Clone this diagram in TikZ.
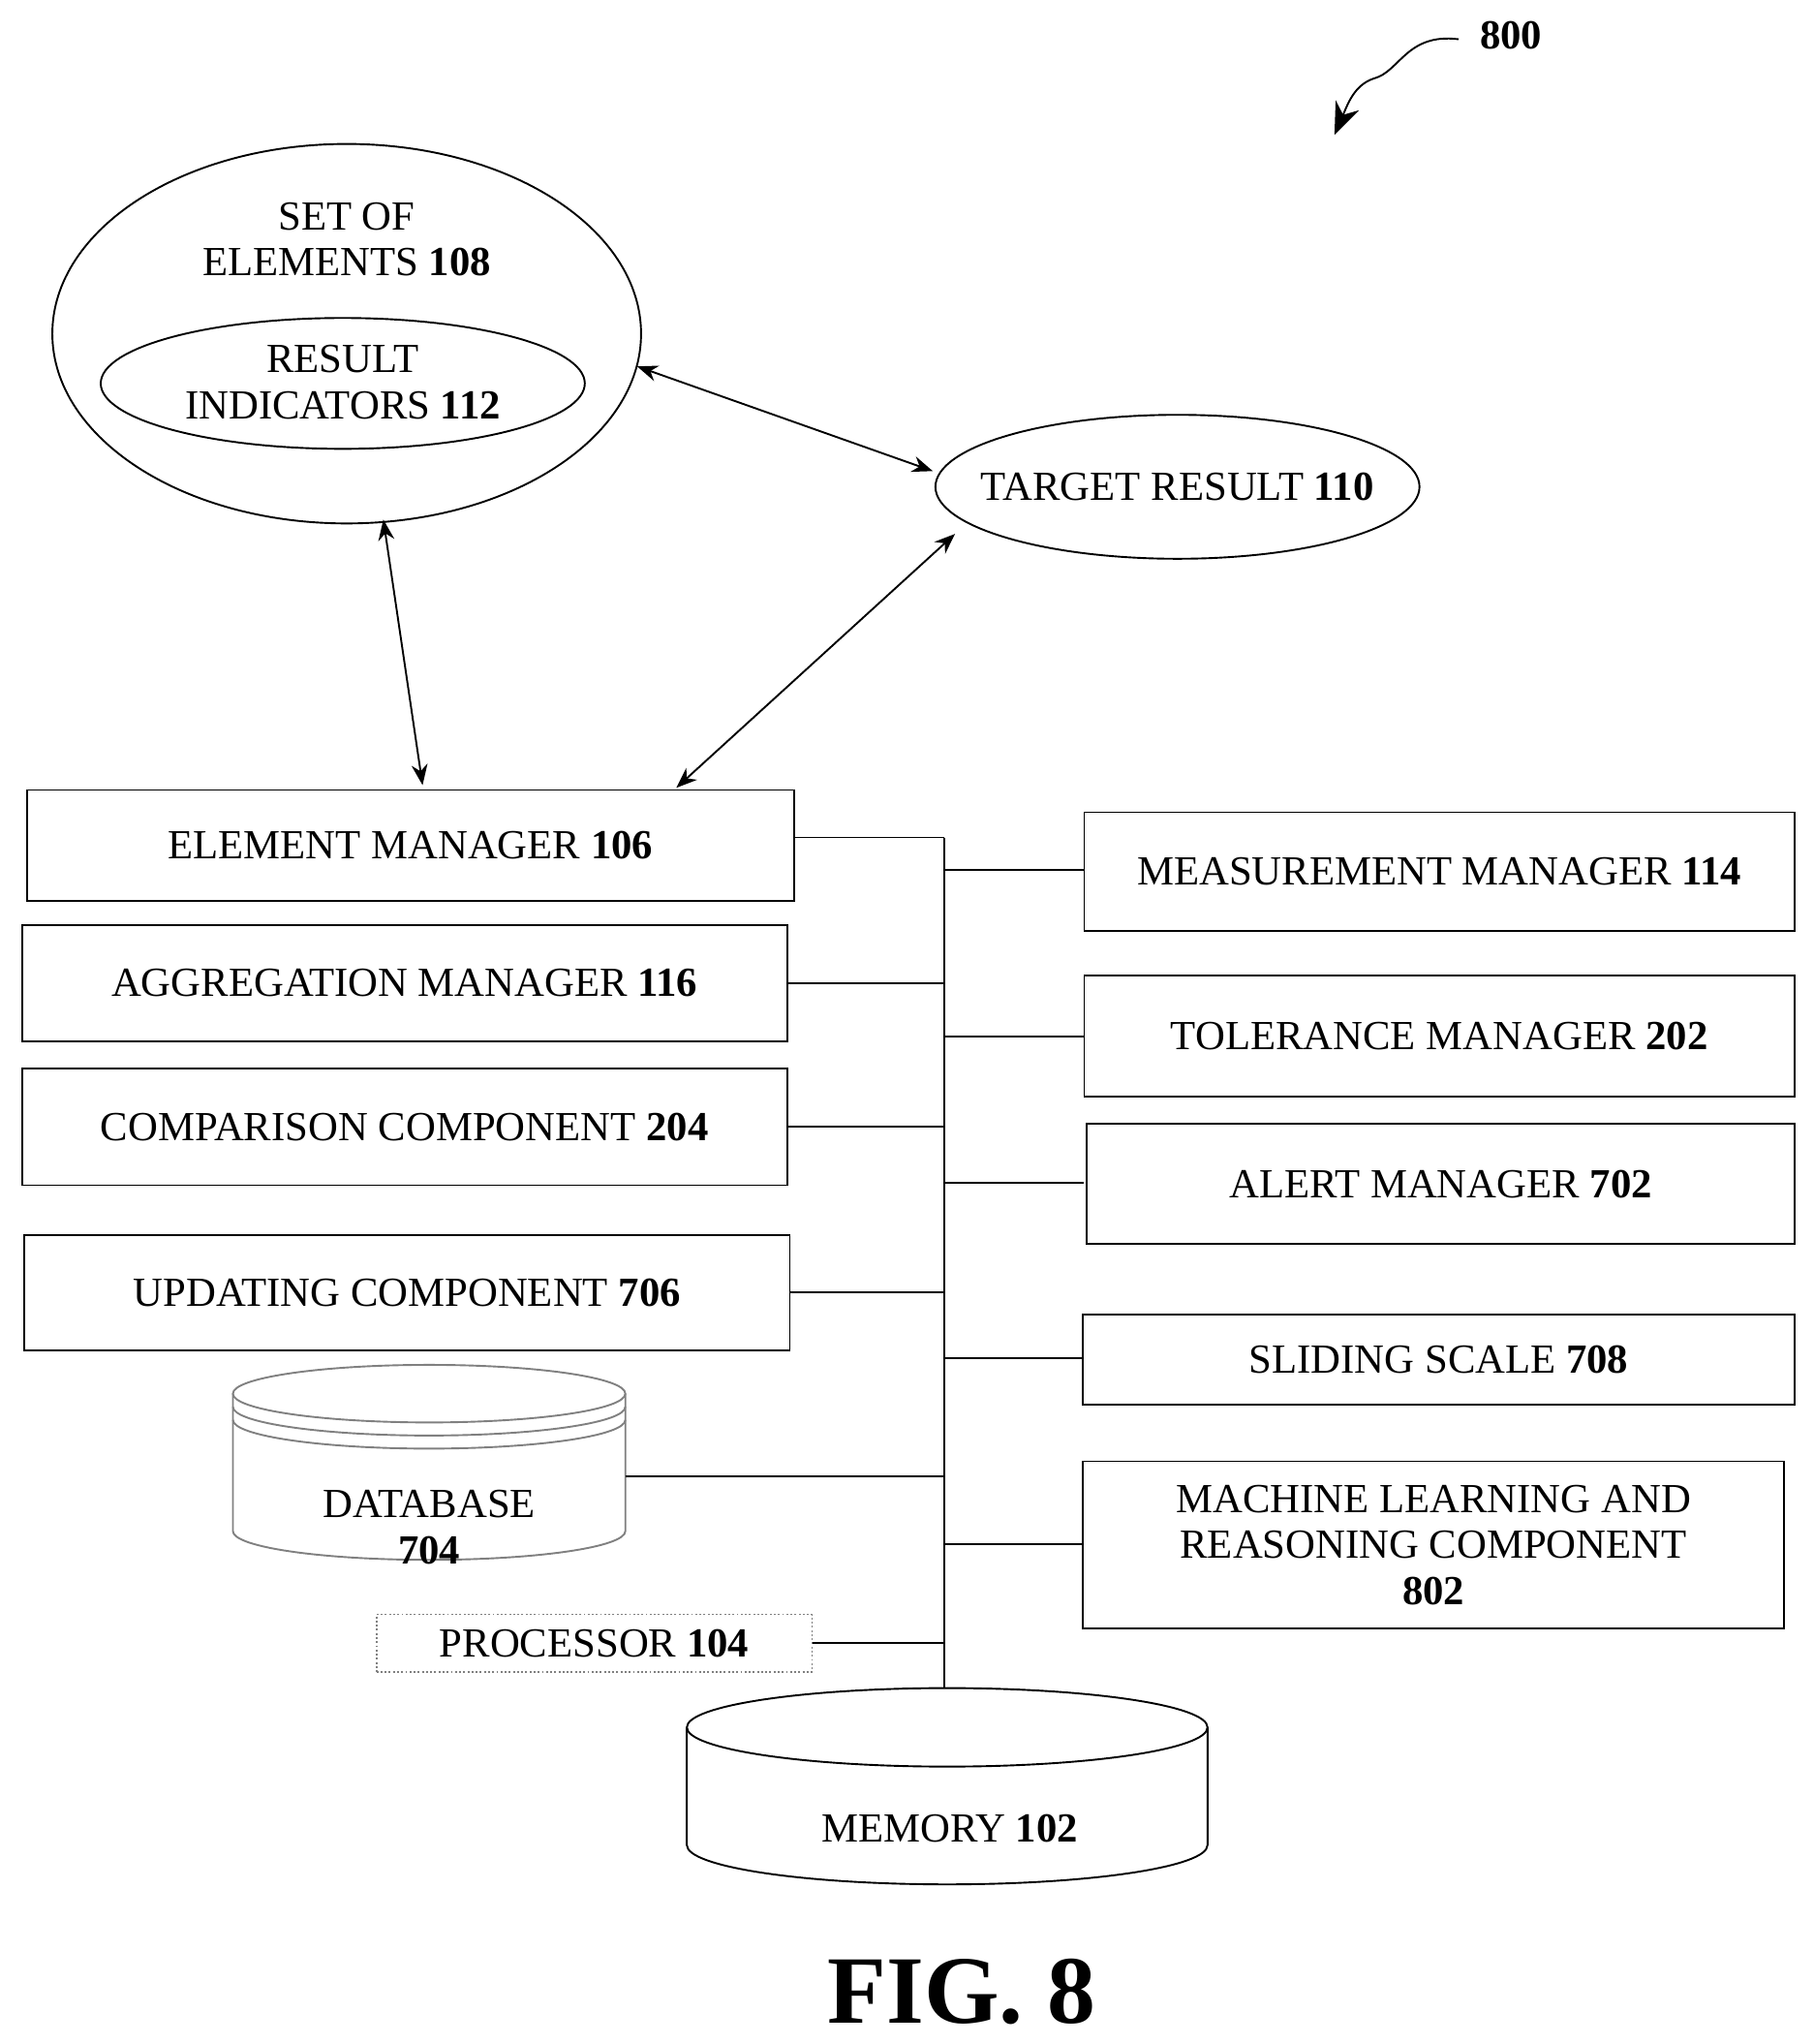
\documentclass[tikz,border=0pt]{standalone}
\usepackage{fontspec}
\setmainfont{Liberation Serif}
\usetikzlibrary{arrows.meta}
\tikzset{
  lbl/.style={font=\fontsize{18}{20}\selectfont, align=center},
  box/.style={draw, thick, lbl, anchor=north west, minimum height=#1},
  dbl/.style={thick, {Stealth[length=9pt,width=7pt]}-{Stealth[length=9pt,width=7pt]}},
  wire/.style={thick}
}
\begin{document}
\begin{tikzpicture}[x=0.02cm, y=-0.02cm]
  \useasboundingbox (0,0) rectangle (1386,1562);
  % ellipses
  \draw[thick] (265,255) ellipse [x radius=225, y radius=145];
  \node[lbl] (set) at (265,183) {SET OF\\ELEMENTS \textbf{108}};
  \draw[thick] (262,293) ellipse [x radius=185, y radius=50];
  \node[lbl] (res) at (262,292) {RESULT\\INDICATORS \textbf{112}};
  \draw[thick] (900,372) ellipse [x radius=185, y radius=55];
  \node[lbl] (tgt) at (900,372) {TARGET RESULT \textbf{110}};
  \coordinate (setr) at (487,280);
  \coordinate (setb) at (293,397);
  \coordinate (tgtl) at (713,360);
  \coordinate (tgtb) at (730,408);
  % left boxes
  \node[box=85*0.02cm, minimum width=586*0.02cm] (em) at (20,603) {ELEMENT MANAGER \textbf{106}};
  \node[box=89*0.02cm, minimum width=585*0.02cm] (agg) at (16,706) {AGGREGATION MANAGER \textbf{116}};
  \node[box=89*0.02cm, minimum width=585*0.02cm] (cmp) at (16,816) {COMPARISON COMPONENT \textbf{204}};
  \node[box=88*0.02cm, minimum width=585*0.02cm] (upd) at (18,943) {UPDATING COMPONENT \textbf{706}};
  % right boxes
  \node[box=91*0.02cm, minimum width=543*0.02cm] (meas) at (828,620) {MEASUREMENT MANAGER \textbf{114}};
  \node[box=92*0.02cm, minimum width=543*0.02cm] (tol) at (828,745) {TOLERANCE MANAGER \textbf{202}};
  \node[box=92*0.02cm, minimum width=541*0.02cm] (alert) at (830,858) {ALERT MANAGER \textbf{702}};
  \node[box=69*0.02cm, minimum width=544*0.02cm] (slide) at (827,1004) {SLIDING SCALE \textbf{708}};
  \node[box=128*0.02cm, minimum width=536*0.02cm] (ml) at (827,1116) {MACHINE LEARNING AND\\REASONING COMPONENT\\\textbf{802}};
  \node[box=44*0.02cm, minimum width=333*0.02cm, draw=gray, densely dotted] (proc) at (287,1233) {PROCESSOR \textbf{104}};
  % database
  \draw[thick, gray] (178,1065) -- (178,1170) arc[start angle=180, end angle=0, x radius=150, y radius=22] -- (478,1065);
  \draw[thick, gray] (328,1065) ellipse [x radius=150, y radius=22];
  \draw[thick, gray] (178,1075) arc[start angle=180, end angle=0, x radius=150, y radius=22];
  \draw[thick, gray] (178,1085) arc[start angle=180, end angle=0, x radius=150, y radius=22];
  \node[lbl] (db) at (328,1167) {DATABASE\\\textbf{704}};
  \coordinate (dbr) at (478,1128);
  % memory
  \draw[thick] (525,1320) -- (525,1410) arc[start angle=180, end angle=0, x radius=199, y radius=30] -- (923,1320);
  \draw[thick] (724,1320) ellipse [x radius=199, y radius=30];
  \node[lbl] (mem) at (726,1397) {MEMORY \textbf{102}};
  \coordinate (memt) at (722,1290);
  % bus
  \coordinate (bus) at (722,640);
  \draw[wire] (bus) -- (memt);
  \foreach \n in {agg,cmp,upd,proc}
    \draw[wire] (\n.east) -- (\n.east -| bus);
  \draw[wire] (em.east |- bus) -- (bus);
  \draw[wire] (dbr) -- (dbr -| bus);
  \foreach \n/\yy in {meas/665,tol/792,alert/904,slide/1038,ml/1180}{
    \coordinate (c\n) at (828,\yy);
    \draw[wire] (c\n -| bus) -- (c\n);
  }
  % arrows
  \coordinate (emt) at (323,600);
  \coordinate (emr) at (517,602);
  \draw[dbl] (setr) -- (tgtl);
  \draw[dbl] (setb) -- (emt);
  \draw[dbl] (tgtb) -- (emr);
  % label
  \node[lbl, font=\fontsize{18}{20}\selectfont\bfseries] (num) at (1155,27) {800};
  \coordinate (numa) at (1020,103);
  \draw[thick, -{Stealth[length=14pt,width=11pt]}] (1115,30) .. controls (1075,25) and (1070,55) .. (1050,60) .. controls (1035,65) and (1030,80) .. (numa);
  \node[font=\fontsize{42}{44}\selectfont\bfseries] (fig) at (735,1522) {FIG. 8};
\end{tikzpicture}
\end{document}
